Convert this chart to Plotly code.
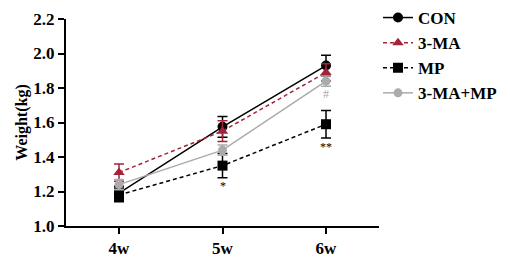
import plotly.graph_objects as go

weeks = [4, 5, 6]
week_labels = ["4w", "5w", "6w"]

con = [1.19, 1.575, 1.93]
con_err = [0.04, 0.06, 0.06]
ma = [1.31, 1.55, 1.89]
ma_err = [0.05, 0.06, 0.05]
mp = [1.18, 1.35, 1.59]
mp_err = [0.04, 0.07, 0.08]
mamp = [1.24, 1.44, 1.84]
mamp_err = [0.03, 0.03, 0.03]

font_family = "Liberation Serif"
red = "#A3243A"
grey = "#ABABAB"

fig = go.Figure()

def add(name, y, err, color, dash, symbol, size, width):
    fig.add_trace(go.Scatter(
        x=weeks, y=y, name=name, mode="lines+markers",
        line=dict(color=color, dash=dash, width=width),
        marker=dict(symbol=symbol, size=size, color=color),
        error_y=dict(type="data", array=err, visible=True, color=color,
                     thickness=1.5, width=5),
    ))

add("CON", con, con_err, "black", "solid", "circle", 10, 1.5)
add("3-MA", ma, ma_err, red, "4px,3px", "triangle-up", 10, 1.5)
add("MP", mp, mp_err, "black", "4px,3px", "square", 10, 1.5)
add("3-MA+MP", mamp, mamp_err, grey, "solid", "circle", 9, 1.5)

annots = [
    dict(x=5, y=mp[1] - mp_err[1] - 0.05, text="*", color="black"),
    dict(x=6, y=mp[2] - mp_err[2] - 0.05, text="**", color="black"),
    dict(x=6, y=mamp[2] - mamp_err[2] - 0.045, text="#", color=grey),
]
for a in annots:
    fig.add_annotation(x=a["x"], y=a["y"], text=a["text"], showarrow=False,
                       font=dict(family=font_family, size=12, color=a["color"]))

fig.update_layout(
    width=510, height=264,
    margin=dict(l=66, r=131, t=19, b=38, autoexpand=False),
    paper_bgcolor="white", plot_bgcolor="white",
    font=dict(family=font_family, size=14, color="black"),
    legend=dict(x=378 / 510, y=1.0, xref="container", yref="container",
                xanchor="left", yanchor="top",
                font=dict(family=font_family, size=17, color="black", weight="bold"),
                itemwidth=30, tracegroupgap=0, bgcolor="rgba(0,0,0,0)"),
    xaxis=dict(range=[3.488, 6.512], tickvals=weeks, ticktext=week_labels,
               showline=True, linecolor="black", linewidth=2, automargin=False,
               ticks="outside", ticklen=6, tickwidth=2, tickcolor="black",
               showgrid=False, zeroline=False,
               tickfont=dict(family=font_family, size=17, weight="bold")),
    yaxis=dict(range=[1.0, 2.2], tickvals=[1.0, 1.2, 1.4, 1.6, 1.8, 2.0, 2.2],
               ticktext=["1.0", "1.2", "1.4", "1.6", "1.8", "2.0", "2.2"],
               showline=True, linecolor="black", linewidth=2, automargin=False,
               ticks="outside", ticklen=6, tickwidth=2, tickcolor="black",
               showgrid=False, zeroline=False,
               tickfont=dict(family=font_family, size=17, weight="bold"),
               title=dict(text="Weight(kg)", standoff=2,
                          font=dict(family=font_family, size=16, weight="bold"))),
)

fig.write_html("out.html", config={"displayModeBar": False},
               post_script="document.body.style.margin='0';document.body.style.overflow='hidden';")
